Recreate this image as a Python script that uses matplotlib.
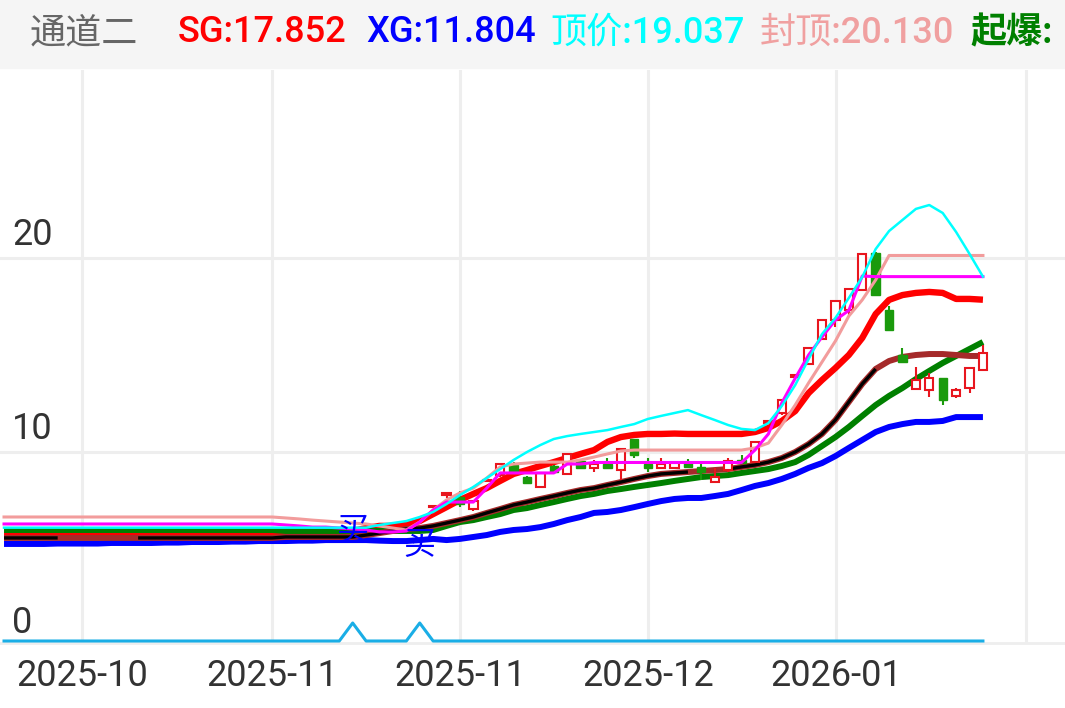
import numpy as np
import matplotlib.pyplot as plt
from matplotlib.patches import Rectangle
import matplotlib.transforms as mtrans

plt.rcParams['font.family'] = ['Roboto', 'Noto Sans CJK SC', 'DejaVu Sans']

# 74 bars, candles only from bar 32 on
sg = [5.77]*21 + [5.82]*5 + [5.93, 6.08, 6.19, 6.19, 6.24, 6.44, 6.8, 7.16, 7.53, 7.84, 8.14, 8.51, 8.87, 9.07,
      9.28, 9.48, 9.69, 9.9, 10.1, 10.52, 10.77, 10.88, 10.93, 10.93, 10.95, 10.93, 10.93, 10.93, 10.93, 10.93,
      11.03, 11.24, 11.6, 12.11, 13.04, 13.71, 14.33, 15.0, 15.88, 17.11, 17.84, 18.09, 18.2, 18.25, 18.2,
      17.89, 17.89, 17.85]
xg = [5.26, 5.26, 5.26, 5.26, 5.28, 5.28, 5.28, 5.28, 5.31, 5.31, 5.31, 5.31, 5.33, 5.33, 5.36, 5.36, 5.36,
      5.38, 5.38, 5.41, 5.41, 5.41, 5.43, 5.43, 5.46, 5.46, 5.46, 5.46, 5.43, 5.41, 5.41, 5.46, 5.52, 5.46,
      5.52, 5.62, 5.72, 5.88, 5.98, 6.03, 6.13, 6.29, 6.49, 6.65, 6.86, 6.91, 7.01, 7.16, 7.32, 7.47, 7.58,
      7.63, 7.63, 7.73, 7.84, 8.04, 8.25, 8.4, 8.61, 8.87, 9.18, 9.43, 9.79, 10.21, 10.62, 11.03, 11.29,
      11.44, 11.55, 11.55, 11.6, 11.8, 11.8, 11.8]
dingjia = [6.1]*28 + [6.24, 6.34, 6.44, 6.65, 6.91, 7.32, 7.78, 8.2, 8.66, 9.12, 9.59, 10.0, 10.36, 10.67,
           10.82, 10.93, 11.03, 11.13, 11.29, 11.44, 11.7, 11.86, 12.01, 12.16, 11.9, 11.65, 11.39, 11.19,
           11.13, 11.49, 12.37, 13.45, 14.79, 16.08, 16.91, 17.94, 19.02, 20.46, 21.39, 21.96, 22.53, 22.73,
           22.32, 21.34, 20.21, 19.04]
fengding = [6.65]*21 + [6.6, 6.55, 6.49, 6.44, 6.39, 6.34, 6.29, 6.19, 6.08, 5.98, 6.39, 7.01, 7.53, 7.89,
            8.14, 8.66, 9.23, 9.38, 9.43, 9.48, 9.48, 9.48, 9.59, 9.74, 9.9, 10.05] + [10.1]*9 + \
           [10.21, 10.46, 11.39, 12.42, 13.56, 14.64, 15.72, 17.01, 17.84, 18.87] + [20.13]*8
magenta = [6.29]*21 + [6.24, 6.19, 6.13, 6.13, 6.08, 6.03, 5.98, 5.88, 5.88, 5.93, 6.39, 7.01, 7.42, 7.42,
           7.42, 8.14, 8.92, 8.92, 8.92, 8.92, 8.92, 9.38, 9.38] + [9.46]*12 + \
          [10.1, 10.93, 12.53, 13.8, 15.0, 15.93, 16.8, 17.3, 19.07] + [19.04]*9
ma_black = [5.57]*21 + [5.62]*6 + [5.72, 5.82, 5.93, 6.03, 6.08, 6.19, 6.34, 6.49, 6.65, 6.86, 7.06, 7.27,
            7.42, 7.58, 7.73, 7.89, 8.04, 8.14, 8.3, 8.45, 8.61, 8.76, 8.87, 8.92, 8.97, 9.02, 9.07, 9.12,
            9.23, 9.33, 9.48, 9.69, 10.0, 10.41, 10.93, 11.65, 12.58, 13.51, 14.28, 14.69, 14.9, 15.0,
            15.05, 15.05, 15.0, 14.95, 14.95]
# 1 = bar shown in brown only
brown_flag = [0]*5 + [1]*5 + [0]*42 + [1, 1] + [0]*12 + [1]*8
qibao = [5.98]*21 + [5.93]*11 + [5.98, 6.19, 6.39, 6.49, 6.65, 6.8, 7.01, 7.11, 7.27, 7.42, 7.58, 7.73, 7.84,
         7.99, 8.09, 8.2, 8.3, 8.4, 8.51, 8.61, 8.71, 8.76, 8.81, 8.92, 9.02, 9.12, 9.28, 9.48, 9.85, 10.31,
         10.77, 11.29, 11.86, 12.42, 12.89, 13.3, 13.76, 14.18, 14.59, 14.95, 15.31, 15.67]
signal = [0]*26 + [1, 0, 0, 0, 0, 1] + [0]*42

candle_start = 32
opens = [7.15, 7.8, 7.7, 7.05, 8.5, 8.8, 9.35, 8.7, 8.2, 9.3, 8.85, 9.55, 9.2, 9.4, 9.07, 10.65, 9.4, 9.2,
         9.17, 9.48, 9.22, 8.45, 9.07, 9.6, 9.5, 11.5, 12.0, 13.87, 14.54, 15.82, 16.8, 17.3, 18.35, 20.25,
         17.3, 15.0, 13.25, 13.2, 13.8, 12.89, 13.3, 14.23]
highs = [7.27, 7.9, 8.0, 7.5, 8.6, 9.45, 9.5, 8.75, 8.9, 9.35, 9.95, 9.6, 9.6, 9.7, 10.15, 10.67, 9.7, 9.7,
         9.5, 9.64, 9.43, 9.17, 9.7, 9.85, 10.5, 11.6, 12.7, 13.95, 15.36, 16.8, 17.78, 18.4, 20.2, 20.3,
         17.55, 15.36, 14.38, 14.07, 13.8, 13.3, 14.38, 15.5]
lows = [7.11, 7.63, 7.15, 6.95, 8.5, 8.7, 8.9, 8.4, 8.2, 8.95, 8.8, 9.15, 8.97, 9.15, 8.56, 9.7, 8.97, 9.17,
        9.17, 9.23, 8.56, 8.45, 8.97, 9.43, 9.48, 11.5, 11.9, 13.87, 14.5, 15.8, 16.44, 17.0, 18.35, 18.1,
        16.3, 14.64, 13.2, 12.83, 12.42, 12.78, 13.04, 14.23]
closes = [7.22, 7.9, 7.3, 7.45, 8.58, 9.4, 8.95, 8.4, 8.9, 8.97, 9.9, 9.2, 9.4, 9.2, 10.15, 9.85, 9.2, 9.4,
          9.45, 9.23, 8.97, 8.7, 9.53, 9.45, 10.5, 11.58, 12.68, 13.95, 15.36, 16.8, 17.78, 18.4, 20.2, 18.1,
          16.3, 14.64, 13.7, 13.8, 12.68, 13.2, 14.33, 15.1]

grid_x = [5.82, 19.99, 34.0, 48.03, 62.04, 76.2]
date_labels = ['2025-10', '2025-11', '2025-11', '2025-12', '2026-01', '']
y_labels = [20, 10, 0]

W, H = 1065, 708
fig = plt.figure(figsize=(W / 100, H / 100), dpi=100)

# header band + legend text
fig.patches.append(Rectangle((0, 1 - 68 / H), 1, 68 / H, transform=fig.transFigure,
                             color='#f5f5f5', zorder=0))
head = [('通道二', 30, '#666666', 'normal'), ('SG:17.852', 178, '#ff0000', 'medium'),
        ('XG:11.804', 366, '#0000ff', 'medium'), ('顶价:19.037', 550, '#00ffff', 'medium'),
        ('封顶:20.130', 760, '#f0a0a0', 'medium'), ('起爆:', 970, '#008000', 'bold')]
for txt, px, col, wt in head:
    fig.text(px / W, 1 - 33 / H, txt, color=col, fontsize=26, fontweight=wt, va='center', ha='left')

ax = fig.add_axes([0, 1 - 643 / H, 1, (643 - 70) / H])
x = np.arange(len(sg))
ax.set_xlim(-0.3, 79.12)
ax.set_ylim(0.155, 29.69)

for gx in grid_x:
    ax.axvline(gx, color='#eeeeee', lw=2.2, zorder=0)
for gy in [10, 20]:
    ax.axhline(gy, color='#eeeeee', lw=2.2, zorder=0)
for s in ['top', 'left', 'right']:
    ax.spines[s].set_visible(False)
ax.spines['bottom'].set_color('#eeeeee')
ax.spines['bottom'].set_linewidth(2)
ax.set_yticks([])
ax.set_xticks(grid_x)
ax.set_xticklabels(date_labels, fontsize=26, color='#333333')
ax.tick_params(axis='x', length=0, pad=11)

trans = mtrans.blended_transform_factory(ax.transAxes, ax.transData)
for v in y_labels:
    ax.annotate(str(v), xy=(0, v), xycoords=trans, xytext=(8.6, 16.5), textcoords='offset points',
                fontsize=26, color='#333333', va='center', ha='left')

# thick lines
ax.plot(x, sg, color='#ff0000', lw=4.6, zorder=2.0, solid_capstyle='butt')
ax.plot(x, xg, color='#0000ff', lw=4.3, zorder=2.05, solid_capstyle='butt')
ax.plot(x, qibao, color='#008000', lw=4.3, zorder=2.1, solid_capstyle='butt')
ax.plot(x, ma_black, color='#a52a2a', lw=4.3, zorder=2.2, solid_capstyle='butt')
black_part = np.where(np.array(brown_flag) == 1, np.nan, ma_black)
ax.plot(x, black_part, color='black', lw=2.4, zorder=2.3, solid_capstyle='butt')

# candles
w = 0.62
for k in range(len(opens)):
    i = candle_start + k
    o, h, l, c = opens[k], highs[k], lows[k], closes[k]
    if c >= o:
        col = '#e8161e'
        ax.vlines(i, c, h, color=col, lw=1.5, zorder=3)
        ax.vlines(i, l, o, color=col, lw=1.5, zorder=3)
        ax.add_patch(Rectangle((i - w / 2, o), w, max(c - o, 0.04), facecolor='white',
                               edgecolor=col, lw=1.5, zorder=3.1))
    else:
        col = '#1a9a0c'
        ax.vlines(i, l, h, color=col, lw=1.5, zorder=3)
        ax.add_patch(Rectangle((i - w / 2, c), w, o - c, facecolor=col,
                               edgecolor=col, lw=1.0, zorder=3.1))

# thin lines
ax.plot(x, fengding, color='#f29c9c', lw=2.2, zorder=4)
ax.plot(x, magenta, color='#ff00ff', lw=2.2, zorder=4.1)
ax.plot(x, dingjia, color='#00ffff', lw=1.8, zorder=4.2)

# buy marks
buy_idx = [i for i, s in enumerate(signal) if s == 1]
buy_y = [5.93, 5.21]
for bi, by in zip(buy_idx, buy_y):
    ax.text(bi, by, '买', color='#0000ff', fontsize=23, ha='center', va='center',
            family='Noto Sans CJK SC', zorder=5)

# bottom signal line
ax2 = ax.twinx()
ax2.set_ylim(-0.111, 31.72)
ax2.plot(x, signal, color='#1aaee6', lw=2.2, clip_on=False)
ax2.axis('off')

fig.savefig('out.png', dpi=100)
